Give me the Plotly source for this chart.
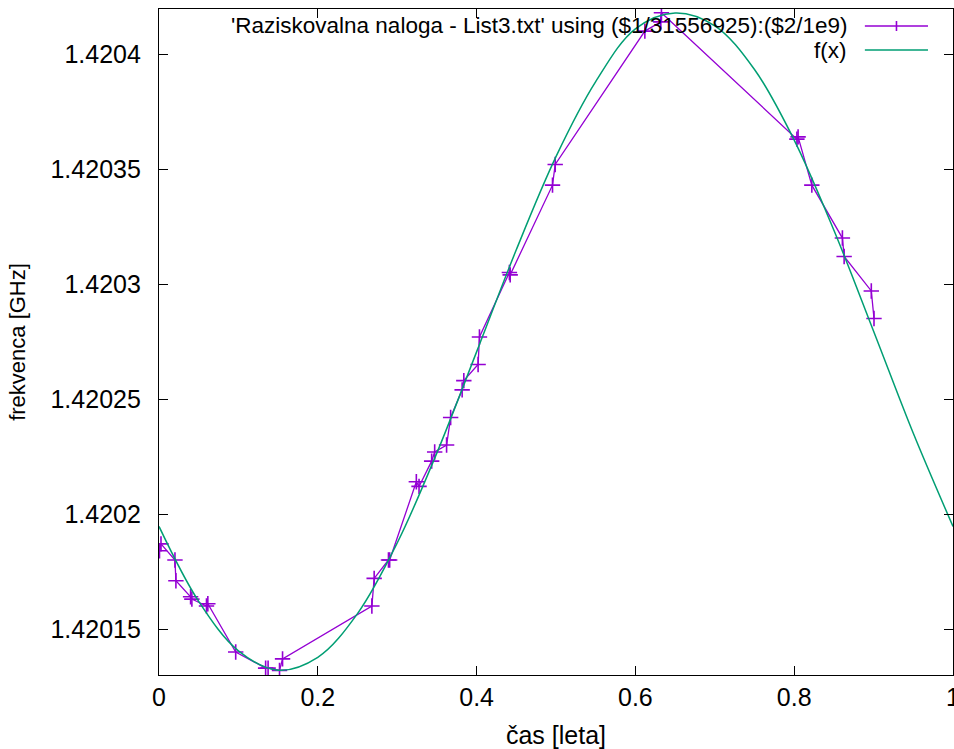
import plotly.graph_objects as go

# ---- data ----
t_years = [0.0006, 0.0025, 0.0201, 0.0213, 0.0398, 0.0414, 0.0598, 0.0615,
           0.0966, 0.1343, 0.1374, 0.1518, 0.1556, 0.2681, 0.2710, 0.2890,
           0.2905, 0.3241, 0.3275, 0.3434, 0.3472, 0.3622, 0.3673, 0.3818,
           0.3839, 0.4019, 0.4036, 0.4413, 0.4423, 0.4956, 0.4990, 0.6119,
           0.6320, 0.6328, 0.8034, 0.8049, 0.8222, 0.8607, 0.8629, 0.8971,
           0.9005]
freq_ghz = [1.420184, 1.420187, 1.420180, 1.420171, 1.420164, 1.420163,
            1.420160, 1.420161, 1.420140, 1.420133, 1.420133, 1.420132,
            1.420137, 1.420160, 1.420172, 1.420180, 1.420180, 1.420214,
            1.420212, 1.420223, 1.420227, 1.420230, 1.420242, 1.420254,
            1.420258, 1.420265, 1.420277, 1.420305, 1.420304, 1.420343,
            1.420352, 1.420410, 1.420414, 1.420418, 1.420363, 1.420364,
            1.420343, 1.420320, 1.420312, 1.420297, 1.420285]

fit_x = [0.0, 0.05, 0.10, 0.15, 0.20, 0.25, 0.30, 0.35, 0.40, 0.45, 0.50,
         0.55, 0.60, 0.65, 0.70, 0.75, 0.80, 0.85, 0.90, 0.95, 1.0]
fit_y = [1.4201946, 1.4201620, 1.4201405, 1.4201321, 1.4201377, 1.4201567,
         1.4201874, 1.4202266, 1.4202705, 1.4203149, 1.4203554, 1.4203880,
         1.4204110, 1.4204179, 1.4204123, 1.4203933, 1.4203626, 1.4203234,
         1.4202795, 1.4202351, 1.4201946]

x_ticks = [0, 0.2, 0.4, 0.6, 0.8, 1]
x_tick_labels = ["0", "0.2", "0.4", "0.6", "0.8", "1"]
y_ticks = [1.42015, 1.4202, 1.42025, 1.4203, 1.42035, 1.4204]
y_tick_labels = ["1.42015", "1.4202", "1.42025", "1.4203", "1.42035", "1.4204"]

legend_labels = ["'Raziskovalna naloga - List3.txt' using ($1/31556925):($2/1e9)",
                 "f(x)"]
x_title = "čas [leta]"
y_title = "frekvenca [GHz]"

PURPLE = "#9400D3"
GREEN = "#009E73"
FONT = "Liberation Sans, Arial, sans-serif"
TICK_FS = 25
KEY_FS = 22.5

fig = go.Figure()
fig.add_trace(go.Scatter(
    x=t_years, y=freq_ghz, mode="lines+markers",
    line=dict(color=PURPLE, width=1.3),
    marker=dict(symbol="cross-thin-open", size=11, color=PURPLE,
                line=dict(color=PURPLE, width=1.6)),
    showlegend=False))
fig.add_trace(go.Scatter(
    x=fit_x, y=fit_y, mode="lines",
    line=dict(color=GREEN, width=1.5, shape="spline", smoothing=1.0),
    showlegend=False))

# manual gnuplot-style key (text right-aligned, sample to the right)
key_rows_y = [0.9745, 0.9384]
key_colors = [PURPLE, GREEN]
for label, ky, col in zip(legend_labels, key_rows_y, key_colors):
    fig.add_annotation(x=0.869, y=ky, xref="paper", yref="paper",
                       text=label, showarrow=False, xanchor="right",
                       yanchor="middle", font=dict(family=FONT, size=KEY_FS, color="black"))
    fig.add_shape(type="line", xref="paper", yref="paper",
                  x0=0.889, x1=0.9685, y0=ky, y1=ky,
                  line=dict(color=col, width=1.5))
# plus sign on first key sample
fig.add_shape(type="line", xref="paper", yref="paper",
              x0=0.9288, x1=0.9288, y0=key_rows_y[0] - 0.0075, y1=key_rows_y[0] + 0.0075,
              line=dict(color=PURPLE, width=1.6))

axis_common = dict(showline=True, linecolor="black", linewidth=1.3, mirror="allticks",
                   ticks="inside", ticklen=9, tickwidth=1.3, tickcolor="black",
                   showgrid=False, zeroline=False, automargin=False,
                   ticklabeloverflow="allow",
                   tickfont=dict(family=FONT, size=TICK_FS, color="black"))

fig.update_xaxes(range=[0, 1], tickvals=x_ticks, ticktext=x_tick_labels,
                 title=dict(text=x_title, font=dict(family=FONT, size=25, color="black"),
                            standoff=16),
                 **axis_common)
fig.update_yaxes(range=[1.42013, 1.4204196], tickvals=y_ticks, ticktext=y_tick_labels,
                 title=dict(text=y_title, font=dict(family=FONT, size=22, color="black"),
                            standoff=18),
                 ticklabelstandoff=12,
                 **axis_common)

fig.update_layout(width=954, height=749,
                  margin=dict(l=159, r=1, t=9, b=74),
                  paper_bgcolor="white", plot_bgcolor="white",
                  showlegend=False)

fig.write_html("out.html",
               config={"displayModeBar": False},
               post_script="document.body.style.margin='0';document.body.style.overflow='hidden';")
